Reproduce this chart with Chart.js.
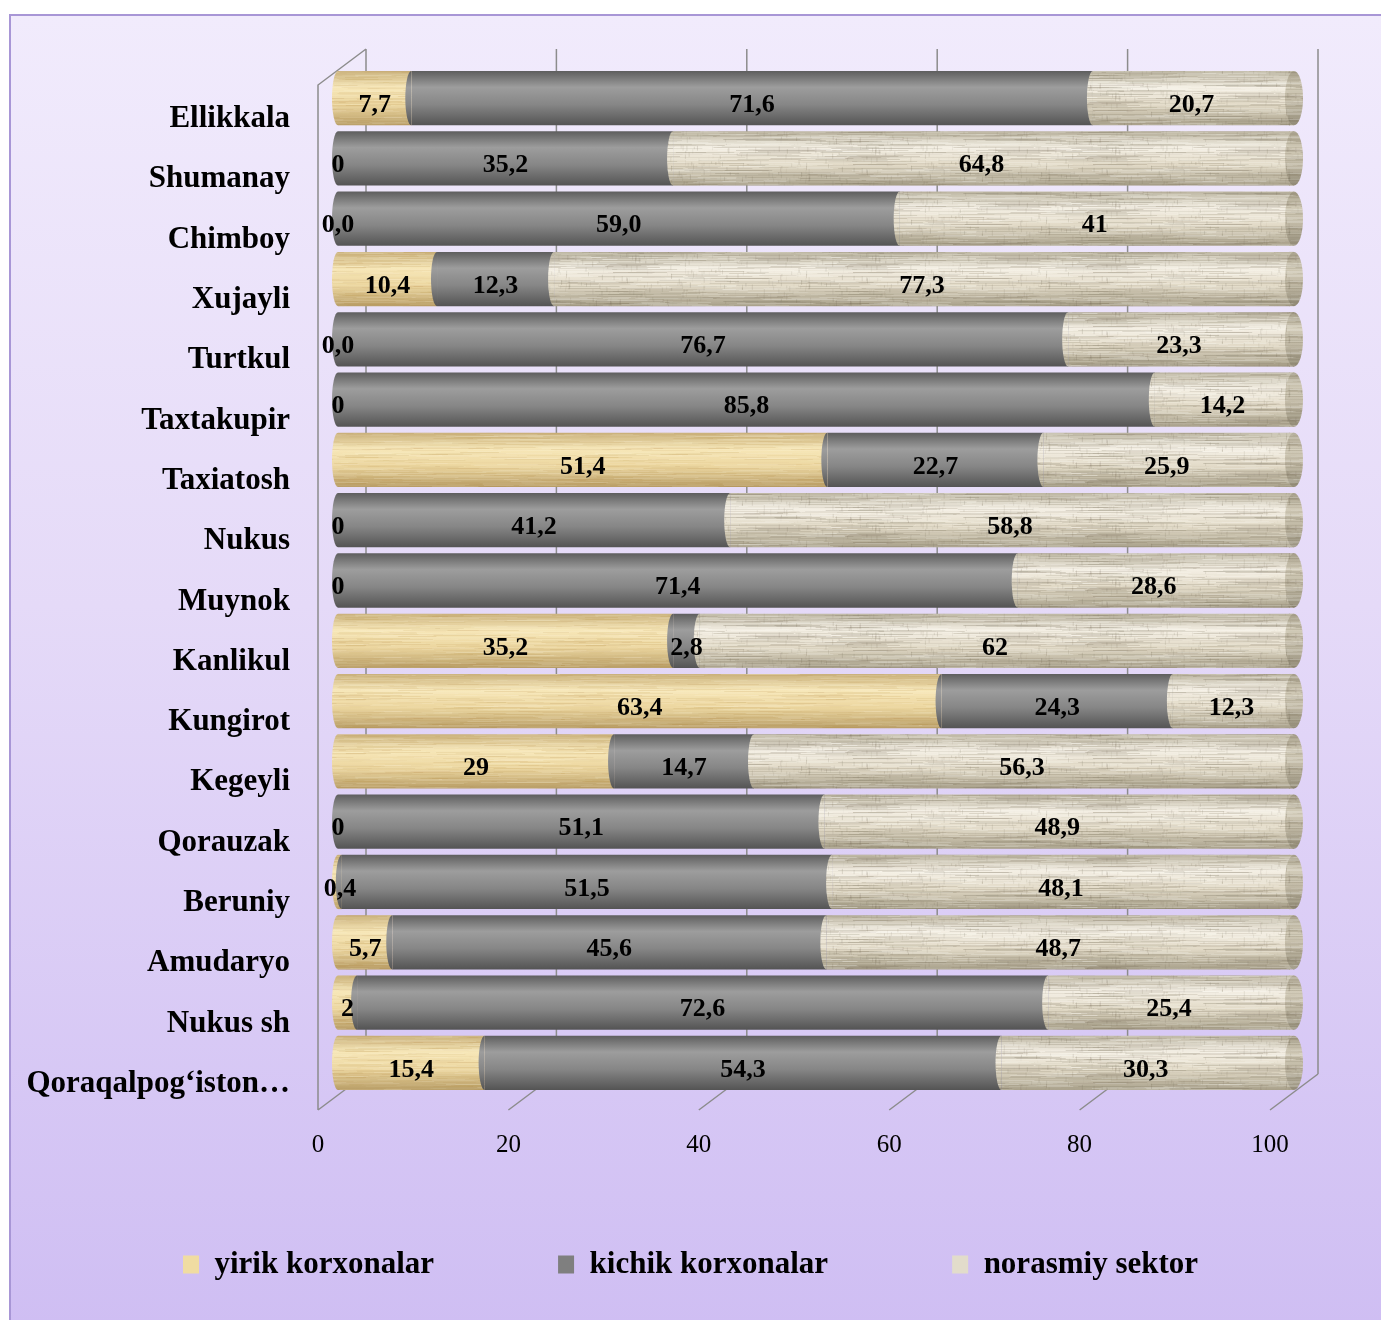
<!DOCTYPE html>
<html>
<head>
<meta charset="utf-8">
<script src="https://cdn.jsdelivr.net/npm/chart.js@4.4.1/dist/chart.umd.min.js"></script>
<style>
    html, body { margin: 0; padding: 0; background: #fff; }
    .frame {
        position: absolute; left: 9px; top: 14px; width: 1380px; height: 1310px;
        border: 2px solid #a896d6;
        background: linear-gradient(to bottom, #f1ebfc 0%, #e5daf8 45%, #cfbef3 100%);
    }
    #chart { position: absolute; left: 0; top: 0; }
</style>
</head>
<body>
<div class="frame"></div>
<canvas id="chart" width="1381" height="1320"></canvas>
<script>
// Data
const categories = ['Ellikkala', 'Shumanay', 'Chimboy', 'Xujayli', 'Turtkul', 'Taxtakupir', 'Taxiatosh',
    'Nukus', 'Muynok', 'Kanlikul', 'Kungirot', 'Kegeyli', 'Qorauzak', 'Beruniy', 'Amudaryo', 'Nukus sh',
    'Qoraqalpog\u2018iston\u2026'];
const seriesNames = ['yirik korxonalar', 'kichik korxonalar', 'norasmiy sektor'];
const yirik = [7.7, 0, 0, 10.4, 0, 0, 51.4, 0, 0, 35.2, 63.4, 29, 0, 0.4, 5.7, 2, 15.4];
const kichik = [71.6, 35.2, 59.0, 12.3, 76.7, 85.8, 22.7, 41.2, 71.4, 2.8, 24.3, 14.7, 51.1, 51.5, 45.6, 72.6, 54.3];
const norasmiy = [20.7, 64.8, 41, 77.3, 23.3, 14.2, 25.9, 58.8, 28.6, 62, 12.3, 56.3, 48.9, 48.1, 48.7, 25.4, 30.3];
const xTicks = [0, 20, 40, 60, 80, 100];
// labels shown with one decimal (category -> dataset indexes)
const oneDecimal = { 'Chimboy': [0, 1], 'Turtkul': [0] };

// Look
const FONT = '"Liberation Serif", "Times New Roman", serif';
const DEPTH_X = 48, DEPTH_Y = -36;   // back wall offset
const BAR_DX = 20, BAR_DY = -17;     // bars sit between front and back
const legendColors = ['#f0dca2', '#7f7f7f', '#e2dccb'];
const shades = [
    ['#c9b07a', '#f7e7b8', '#ecd69f', '#b89d66'],
    ['#5e5e5e', '#9d9d9d', '#868686', '#545454'],
    ['#bdb6a2', '#f4efe4', '#e2dac7', '#a8a08a']
];
const capShade = ['#a49c87', '#d2cbb8', '#beb6a2', '#918a76'];

function cylFill(ctx, y, h, s) {
    const g = ctx.createLinearGradient(0, y - h / 2, 0, y + h / 2);
    g.addColorStop(0, s[0]);
    g.addColorStop(0.3, s[1]);
    g.addColorStop(0.62, s[2]);
    g.addColorStop(1, s[3]);
    return g;
}

function barHeight(chart) {
    const y = chart.scales.y;
    return (y.bottom - y.top) / categories.length * 0.9;
}

// deterministic hash, used for the texture only
function hash(n) {
    const s = Math.sin(n * 12.9898) * 43758.5453;
    return s - Math.floor(s);
}

// streaky fabric / wood grain drawn once on a small tile
function makeTexture(kind) {
    const c = document.createElement('canvas');
    c.width = 240; c.height = 54;
    const t = c.getContext('2d');
    const light = kind === 'wood' ? '255,250,228' : '255,255,250';
    const dark = kind === 'wood' ? '180,140,70' : '120,110,88';
    const strength = kind === 'wood' ? 0.16 : 0.22;
    let k = kind === 'wood' ? 1 : 500;
    for (let y = 0; y < 54; y++) {
        for (let n = 0; n < 6; n++) {
            k++;
            const x = hash(k) * 240;
            const len = 20 + hash(k + 0.5) * 70;
            const a = hash(k + 0.25) * strength;
            t.fillStyle = hash(k + 0.75) > 0.45 ? `rgba(${light},${a})` : `rgba(${dark},${a})`;
            t.fillRect(x, y, len, 1);
            if (x + len > 240) t.fillRect(x - 240, y, len, 1);
        }
    }
    if (kind === 'linen') {
        for (let n = 0; n < 260; n++) {
            const x = hash(n + 900) * 240, y = hash(n + 1300) * 54;
            t.fillStyle = `rgba(105,95,75,${hash(n + 1700) * 0.2})`;
            t.fillRect(x, y, 1, 2 + hash(n + 2100) * 4);
        }
    }
    return c;
}

const chartEl = document.getElementById('chart');
const textures = [makeTexture('wood'), null, makeTexture('linen')];

const seriesData = [yirik, kichik, norasmiy];
const datasets = seriesData.map((data, i) => ({
    label: seriesNames[i],
    data: data,
    borderWidth: 0,
    clip: false,
    backgroundColor: (c) => {
        if (c.type !== 'data' || !c.chart.chartArea) return legendColors[i];
        const y = c.chart.scales.y.getPixelForValue(c.dataIndex);
        return cylFill(c.chart.ctx, y, barHeight(c.chart), shades[i]);
    }
}));

function labelText(v, cat, ds) {
    const list = oneDecimal[cat];
    const s = list && list.includes(ds) ? v.toFixed(1) : String(v);
    return s.replace('.', ',');
}

function fillTexture(ctx, i) {
    if (!textures[i]) return;
    ctx.fillStyle = ctx.createPattern(textures[i], 'repeat');
    ctx.fill();
}

const cylinder3d = {
    id: 'cylinder3d',
    beforeDatasetsDraw(chart) {
        const { ctx, chartArea: a, scales: { x } } = chart;
        ctx.save();
        ctx.strokeStyle = '#8c8c8c';
        ctx.lineWidth = 1.5;
        ctx.beginPath();
        xTicks.forEach(v => {
            const px = x.getPixelForValue(v);
            // back wall
            ctx.moveTo(px + DEPTH_X, a.top + DEPTH_Y);
            ctx.lineTo(px + DEPTH_X, a.bottom + DEPTH_Y);
            // floor
            ctx.moveTo(px, a.bottom);
            ctx.lineTo(px + DEPTH_X, a.bottom + DEPTH_Y);
        });
        // left wall
        const x0 = x.getPixelForValue(0);
        ctx.moveTo(x0, a.bottom);
        ctx.lineTo(x0, a.top);
        ctx.lineTo(x0 + DEPTH_X, a.top + DEPTH_Y);
        ctx.stroke();

        // x tick labels on the front edge of the floor
        ctx.font = `25px ${FONT}`;
        ctx.fillStyle = '#000';
        ctx.textAlign = 'center';
        ctx.textBaseline = 'middle';
        x.ticks.forEach(t => {
            ctx.fillText(String(t.value), x.getPixelForValue(t.value), a.bottom + 35);
        });
        ctx.restore();

        ctx.save();
        ctx.translate(BAR_DX, BAR_DY);
    },
    afterDatasetsDraw(chart) {
        const { ctx } = chart;
        const h = barHeight(chart);
        const metas = [0, 1, 2].map(i => chart.getDatasetMeta(i));

        // textures on the bodies
        metas.forEach((meta, i) => {
            meta.data.forEach(el => {
                const w = el.x - el.base;
                if (w <= 0) return;
                ctx.save();
                ctx.beginPath();
                ctx.rect(el.base, el.y - h / 2, w, h);
                fillTexture(ctx, i);
                ctx.restore();
            });
        });

        categories.forEach((cat, j) => {
            const els = metas.map(m => m.data[j]);
            const y = els[0].y;
            const nonZero = [0, 1, 2].filter(i => seriesData[i][j] > 0);
            const last = nonZero[nonZero.length - 1];

            // each segment shows a rounded left end
            nonZero.forEach(i => {
                ctx.save();
                ctx.fillStyle = cylFill(ctx, y, h, shades[i]);
                ctx.beginPath();
                ctx.ellipse(els[i].base, y, 6, h / 2, 0, Math.PI / 2, Math.PI * 1.5);
                ctx.fill();
                fillTexture(ctx, i);
                ctx.restore();
            });

            // end face on the right
            const ex = els[last].x + 4;
            ctx.save();
            ctx.fillStyle = cylFill(ctx, y, h, shades[last]);
            ctx.beginPath();
            ctx.rect(els[last].x - 1, y - h / 2, 5, h);
            ctx.fill();
            fillTexture(ctx, last);
            ctx.fillStyle = cylFill(ctx, y, h, capShade);
            ctx.beginPath();
            ctx.ellipse(ex, y, 9, h / 2, 0, 0, Math.PI * 2);
            ctx.fill();
            fillTexture(ctx, 2);
            ctx.restore();
        });

        // data labels
        ctx.save();
        ctx.font = `bold 26px ${FONT}`;
        ctx.fillStyle = '#000';
        ctx.textAlign = 'center';
        ctx.textBaseline = 'middle';
        metas.forEach((meta, i) => {
            meta.data.forEach((el, j) => {
                const cx = (el.x + el.base) / 2;
                ctx.fillText(labelText(seriesData[i][j], categories[j], i), cx, el.y + 7);
            });
        });
        ctx.restore();

        ctx.restore();
    }
};

const chart = new Chart(chartEl, {
    type: 'bar',
    data: { labels: categories, datasets: datasets },
    options: {
        indexAxis: 'y',
        responsive: false,
        animation: false,
        layout: { padding: { left: 0, right: 0, top: 85, bottom: 30 } },
        datasets: { bar: { barPercentage: 0.9, categoryPercentage: 1 } },
        scales: {
            x: {
                stacked: true,
                min: 0,
                max: 100,
                afterFit: (s) => { s.height = 15; },
                grid: { display: false, drawTicks: false },
                border: { display: false },
                ticks: { stepSize: 20, display: false }
            },
            y: {
                stacked: true,
                afterFit: (s) => { s.width = 318; },
                grid: { display: false, drawTicks: false },
                border: { display: false },
                ticks: {
                    autoSkip: false,
                    padding: 28,
                    labelOffset: 4,
                    color: '#000',
                    font: { family: FONT, size: 31, weight: 'bold' }
                }
            },
            // empty strip on the right, keeps the legend centred on the whole frame
            yRight: {
                type: 'linear',
                position: 'right',
                min: 0,
                max: 1,
                afterFit: (s) => { s.width = 111; },
                grid: { display: false, drawTicks: false },
                border: { display: false },
                ticks: { display: false }
            }
        },
        plugins: {
            tooltip: { enabled: false },
            legend: {
                position: 'bottom',
                labels: {
                    boxWidth: 16,
                    boxHeight: 18,
                    padding: 124,
                    color: '#000',
                    font: { family: FONT, size: 31, weight: 'bold' },
                    generateLabels: (ch) => Chart.defaults.plugins.legend.labels.generateLabels(ch)
                        .map((item, i) => Object.assign(item, { fillStyle: legendColors[i], strokeStyle: legendColors[i], lineWidth: 0 }))
                }
            }
        }
    },
    plugins: [cylinder3d]
});
</script>
</body>
</html>
